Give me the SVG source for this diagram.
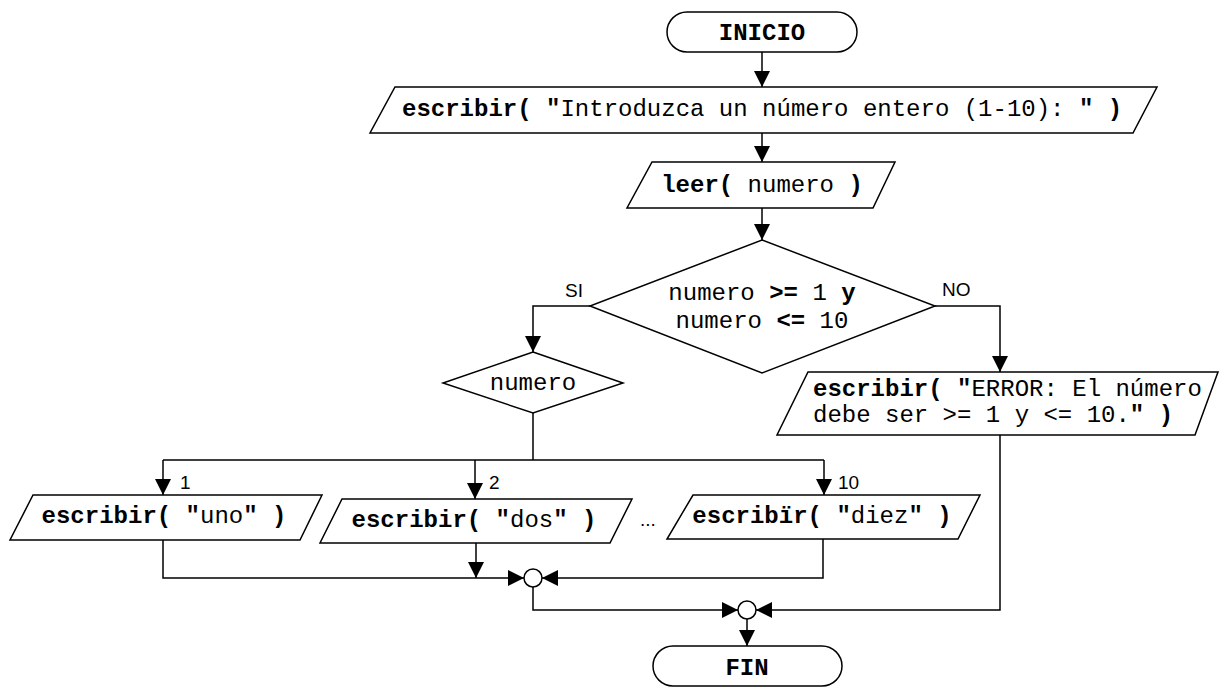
<svg xmlns="http://www.w3.org/2000/svg" width="1221" height="688" viewBox="0 0 1221 688">
<style>
.s{fill:#fff;stroke:#000;stroke-width:1.5}
.c{fill:none;stroke:#000;stroke-width:1.5}
.m{font-family:"Liberation Mono","Courier New",monospace;font-size:24px;fill:#000}
.b{font-weight:bold}
.l{font-family:"Liberation Sans",Arial,sans-serif;font-size:19px;fill:#000}
</style>
<defs>
<marker id="a" markerUnits="userSpaceOnUse" markerWidth="16" markerHeight="16" refX="16" refY="8" orient="auto">
<path d="M0,0 L16,8 L0,16 z" fill="#000"/>
</marker>
</defs>
<rect width="1221" height="688" fill="#fff"/>
<g id="connectors">
<path class="c" d="M762,52 V87" marker-end="url(#a)"/>
<path class="c" d="M762,133 V162" marker-end="url(#a)"/>
<path class="c" d="M762,208 V240" marker-end="url(#a)"/>
<path class="c" d="M590,306 H533 V352" marker-end="url(#a)"/>
<path class="c" d="M935,306 H1000 V372" marker-end="url(#a)"/>
<path class="c" d="M533,413 V460 M163,460 H824"/>
<path class="c" d="M163,460 V495" marker-end="url(#a)"/>
<path class="c" d="M475,460 V499" marker-end="url(#a)"/>
<path class="c" d="M824,460 V495" marker-end="url(#a)"/>
<path class="c" d="M163,540 V578 H524" marker-end="url(#a)"/>
<path class="c" d="M476,543 V578" marker-end="url(#a)"/>
<path class="c" d="M823,539 V578 H542" marker-end="url(#a)"/>
<path class="c" d="M533,587 V610 H738" marker-end="url(#a)"/>
<path class="c" d="M1000,435 V610 H756" marker-end="url(#a)"/>
<path class="c" d="M747,619 V646" marker-end="url(#a)"/>
<text class="l" x="565" y="297">SI</text>
<text class="l" x="942" y="296">NO</text>
<text class="l" x="180" y="489">1</text>
<text class="l" x="489" y="489">2</text>
<text class="l" x="838" y="489">10</text>
<text class="l" x="640" y="526">...</text>
</g>
<g id="inicio">
<rect class="s" x="667" y="12" width="190" height="40" rx="20" ry="20"/>
<text class="m b" x="762" y="40" text-anchor="middle">INICIO</text>
</g>
<g id="escribir1">
<polygon class="s" points="395,87 1157,87 1133,133 370,133"/>
<text class="m" x="402" y="116"><tspan class="b">escribir( "</tspan>Introduzca un número entero (1-10): <tspan class="b">" )</tspan></text>
</g>
<g id="leer">
<polygon class="s" points="652,162 895,162 873,208 627,208"/>
<text class="m" x="762" y="192" text-anchor="middle"><tspan class="b">leer(</tspan> numero <tspan class="b">)</tspan></text>
</g>
<g id="decision">
<polygon class="s" points="762,240 935,306 762,373 590,306"/>
<text class="m" x="762" y="300" text-anchor="middle">numero <tspan class="b">&gt;=</tspan> 1 <tspan class="b">y</tspan></text>
<text class="m" x="762" y="328" text-anchor="middle">numero <tspan class="b">&lt;=</tspan> 10</text>
</g>
<g id="switch">
<polygon class="s" points="533,352 623,383 533,413 443,383"/>
<text class="m" x="533" y="390" text-anchor="middle">numero</text>
</g>
<g id="error">
<polygon class="s" points="808,372 1218,372 1195,435 777,435"/>
<text class="m" x="813" y="396"><tspan class="b">escribir( "</tspan>ERROR: El número</text>
<text class="m" x="813" y="422">debe ser &gt;= 1 y &lt;= 10.<tspan class="b">" )</tspan></text>
</g>
<g id="uno">
<polygon class="s" points="33,495 322,495 300,540 10,540"/>
<text class="m" x="164" y="523" text-anchor="middle"><tspan class="b">escribir( "</tspan>uno<tspan class="b">" )</tspan></text>
</g>
<g id="dos">
<polygon class="s" points="342,499 632,499 610,543 320,543"/>
<text class="m" x="474" y="527" text-anchor="middle"><tspan class="b">escribir( "</tspan>dos<tspan class="b">" )</tspan></text>
</g>
<g id="diez">
<polygon class="s" points="693,495 980,495 958,539 667,539"/>
<text class="m" x="822" y="523" text-anchor="middle"><tspan class="b">escribïr( "</tspan>diez<tspan class="b">" )</tspan></text>
</g>
<g id="union1">
<circle class="s" cx="533" cy="578" r="9"/>
</g>
<g id="union2">
<circle class="s" cx="747" cy="610" r="9"/>
</g>
<g id="fin">
<rect class="s" x="653" y="646" width="189" height="40" rx="20" ry="20"/>
<text class="m b" x="747" y="675" text-anchor="middle">FIN</text>
</g>
</svg>
